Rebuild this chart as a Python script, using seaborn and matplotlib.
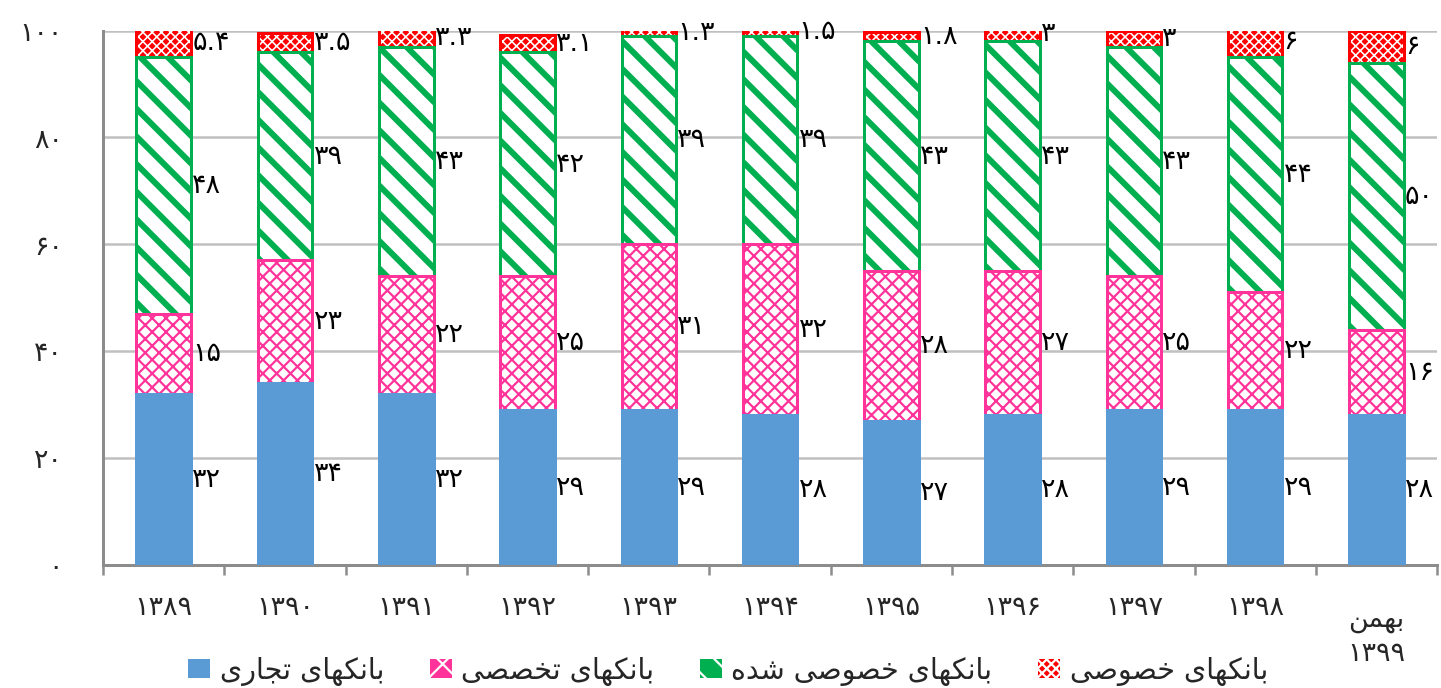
import numpy as np
import pandas as pd
import matplotlib
matplotlib.use("Agg")
import matplotlib.pyplot as plt
import matplotlib.transforms as mtransforms
import seaborn as sns
from matplotlib.patches import Patch

# ---------------- data ----------------
categories = ['۱۳۸۹', '۱۳۹۰', '۱۳۹۱', '۱۳۹۲', '۱۳۹۳', '۱۳۹۴', '۱۳۹۵',
              '۱۳۹۶', '۱۳۹۷', '۱۳۹۸', 'بهمن\n۱۳۹۹']
commercial = [32, 34, 32, 29, 29, 28, 27, 28, 29, 29, 28]
specialized = [15, 23, 22, 25, 31, 32, 28, 27, 25, 22, 16]
privatized = [48, 39, 43, 42, 39, 39, 43, 43, 43, 44, 50]
private = [5.4, 3.5, 3.3, 3.1, 1.3, 1.5, 1.8, 3, 3, 6, 6]
series_names = ['بانکهای تجاری', 'بانکهای تخصصی', 'بانکهای خصوصی شده', 'بانکهای خصوصی']
y_ticks = [0, 20, 40, 60, 80, 100]

# ---------------- helpers ----------------
FA_DIGITS = str.maketrans('0123456789', '۰۱۲۳۴۵۶۷۸۹')


def fa(v):
    return ('%g' % v).translate(FA_DIGITS)


FORMS = {
    'ا': ('\uFE8D', '\uFE8E', None, None),
    'ب': ('\uFE8F', '\uFE90', '\uFE91', '\uFE92'),
    'ت': ('\uFE95', '\uFE96', '\uFE97', '\uFE98'),
    'ج': ('\uFE9D', '\uFE9E', '\uFE9F', '\uFEA0'),
    'خ': ('\uFEA5', '\uFEA6', '\uFEA7', '\uFEA8'),
    'د': ('\uFEA9', '\uFEAA', None, None),
    'ر': ('\uFEAD', '\uFEAE', None, None),
    'ش': ('\uFEB5', '\uFEB6', '\uFEB7', '\uFEB8'),
    'ص': ('\uFEB9', '\uFEBA', '\uFEBB', '\uFEBC'),
    'م': ('\uFEE1', '\uFEE2', '\uFEE3', '\uFEE4'),
    'ن': ('\uFEE5', '\uFEE6', '\uFEE7', '\uFEE8'),
    'ه': ('\uFEE9', '\uFEEA', '\uFEEB', '\uFEEC'),
    'و': ('\uFEED', '\uFEEE', None, None),
    'ی': ('\uFBFC', '\uFBFD', '\uFBFE', '\uFBFF'),
    'ک': ('\uFB8E', '\uFB8F', '\uFB90', '\uFB91'),
}
RIGHT_ONLY = set('ادرو')


def shape(s):
    """Join Persian letters into presentation forms and order them right-to-left."""
    lines = []
    for line in s.split('\n'):
        chars = list(line)
        res = []
        for i, c in enumerate(chars):
            if c not in FORMS:
                res.append(c)
                continue
            prev = chars[i - 1] if i > 0 else None
            nxt = chars[i + 1] if i + 1 < len(chars) else None
            jp = prev in FORMS and prev not in RIGHT_ONLY
            jn = nxt in FORMS and c not in RIGHT_ONLY
            iso, fin, ini, med = FORMS[c]
            if jp and jn:
                f = med
            elif jp:
                f = fin
            elif jn:
                f = ini
            else:
                f = iso
            res.append(f)
        if any(ch in FORMS for ch in chars):
            res = res[::-1]
        lines.append(''.join(res))
    return '\n'.join(lines)


DPI = 83


def px(v):
    return v * 72.0 / DPI


# ---------------- style ----------------
sns.set_theme(style="white")
plt.rcParams['font.family'] = ['DejaVu Sans']

BLUE = '#5B9BD5'
PINK = '#FF3399'
GREEN = '#00B050'
RED = '#FF0000'

c1 = np.array(commercial, dtype=float)
c2 = c1 + np.array(specialized)
c3 = c2 + np.array(privatized)
c4 = c3 + np.array(private)

df = pd.DataFrame({'cat': categories, 'c1': c1, 'c2': c2, 'c3': c3, 'c4': c4})

fig = plt.figure(figsize=(1441.4 / DPI, 688.4 / DPI), dpi=DPI)
ax = fig.add_axes([0.0715, 0.179, 0.9255, 0.776])

W = 0.45
EDGE = px(3)
plt.rcParams['hatch.linewidth'] = px(1.6)
sns.barplot(data=df, x='cat', y='c4', ax=ax, color=RED, saturation=1, width=W,
            hatch='xxx', edgecolor='white', linewidth=0, zorder=3)
sns.barplot(data=df, x='cat', y='c4', ax=ax, color=RED, saturation=1, width=W,
            fill=False, linewidth=EDGE, zorder=3)
plt.rcParams['hatch.linewidth'] = px(6)
sns.barplot(data=df, x='cat', y='c3', ax=ax, color='white', saturation=1, width=W,
            hatch='\\', edgecolor=GREEN, linewidth=EDGE, zorder=3)
plt.rcParams['hatch.linewidth'] = px(2.2)
sns.barplot(data=df, x='cat', y='c2', ax=ax, color='white', saturation=1, width=W,
            hatch='xx', edgecolor=PINK, linewidth=EDGE, zorder=3)
sns.barplot(data=df, x='cat', y='c1', ax=ax, color=BLUE, saturation=1, width=W,
            edgecolor=BLUE, linewidth=EDGE, zorder=3)

NUMFONT = px(27)

# data labels
seg_vals = [commercial, specialized, privatized, private]
bottoms = [np.zeros(len(c1)), c1, c2, c3]
for vals, bot in zip(seg_vals, bottoms):
    for i, (v, b) in enumerate(zip(vals, bot)):
        ax.text(i + W / 2 + 0.01, b + v / 2, fa(v), ha='left', va='center',
                fontsize=NUMFONT, color='black', zorder=5)

ax.set_ylim(0, 100)
ax.set_xlim(-0.5, len(categories) - 0.5)
ax.set_yticks(y_ticks)
ax.set_yticklabels([fa(t) for t in y_ticks], fontsize=NUMFONT)
ax.set_xticks(range(len(categories)))
ax.set_xticks(np.arange(-0.5, len(categories), 1.0), minor=True)
ax.tick_params(axis='x', which='major', length=0, pad=px(30))
ax.tick_params(axis='x', which='minor', length=px(10), width=px(2.5), color='#8C8C8C',
               direction='out', bottom=True)
ax.tick_params(axis='y', which='major', length=0, pad=px(40))
xt = ax.set_xticklabels([shape(c) for c in categories], fontsize=NUMFONT, va='top')
xt[-1].set_linespacing(1.4)
xt[-1].set_transform(xt[-1].get_transform() +
                     mtransforms.ScaledTranslation(0, -12 / DPI, fig.dpi_scale_trans))
ax.set_xlabel('')
ax.set_ylabel('')
ax.yaxis.grid(True, color='#C0C0C0', linewidth=px(2.5), zorder=0)
ax.set_axisbelow(True)
for s in ['top', 'right']:
    ax.spines[s].set_visible(False)
ax.spines['left'].set_color('#8C8C8C')
ax.spines['left'].set_linewidth(px(3))
ax.spines['bottom'].set_color('#8C8C8C')
ax.spines['bottom'].set_linewidth(px(3))

handles = [
    Patch(facecolor=BLUE, edgecolor=BLUE, linewidth=0),
    Patch(facecolor=PINK, edgecolor='white', hatch='x', linewidth=0),
    Patch(facecolor=GREEN, edgecolor='white', hatch='\\', linewidth=0),
    Patch(facecolor=RED, edgecolor='white', hatch='xxx', linewidth=0),
]
LEGFONT = px(28.5)
ax.legend(handles, [shape(s) for s in series_names], ncol=4, loc='center',
          bbox_to_anchor=(0.505, 0.025), bbox_transform=fig.transFigure,
          frameon=False, fontsize=LEGFONT, handlelength=0.78, handleheight=0.65,
          columnspacing=1.6, handletextpad=0.33, borderpad=0, borderaxespad=0)

fig.savefig('out.png', dpi=DPI)
